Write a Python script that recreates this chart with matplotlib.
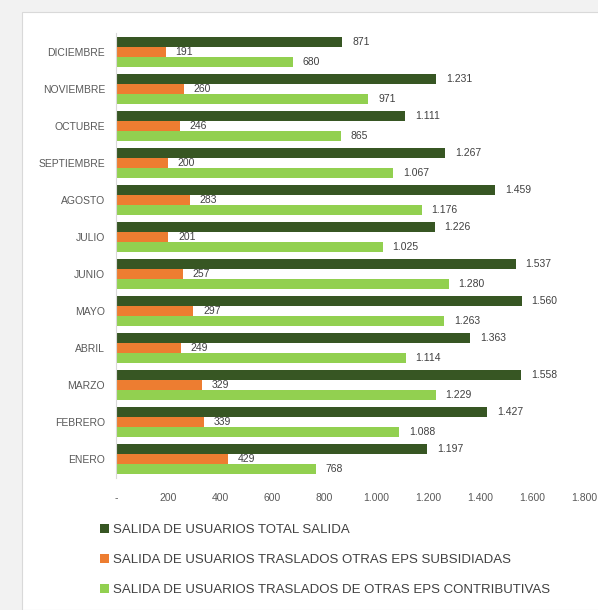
import matplotlib.pyplot as plt
import numpy as np
from matplotlib.patches import Rectangle

meses = ["ENERO", "FEBRERO", "MARZO", "ABRIL", "MAYO", "JUNIO",
         "JULIO", "AGOSTO", "SEPTIEMBRE", "OCTUBRE", "NOVIEMBRE", "DICIEMBRE"]
total_salida = [1197, 1427, 1558, 1363, 1560, 1537, 1226, 1459, 1267, 1111, 1231, 871]
subsidiadas = [429, 339, 329, 249, 297, 257, 201, 283, 200, 246, 260, 191]
contributivas = [768, 1088, 1229, 1114, 1263, 1280, 1025, 1176, 1067, 865, 971, 680]

series_names = ["SALIDA DE USUARIOS TOTAL SALIDA",
                "SALIDA DE USUARIOS TRASLADOS OTRAS EPS SUBSIDIADAS",
                "SALIDA DE USUARIOS TRASLADOS DE OTRAS EPS CONTRIBUTIVAS"]
colors = ["#375623", "#ED7D31", "#92D050"]


def fmt(v):
    if v == 0:
        return "-"
    return f"{int(v):,}".replace(",", ".")


plt.rcParams["font.family"] = ["Liberation Sans", "DejaVu Sans"]

fig = plt.figure(figsize=(5.98, 6.10), dpi=100)
fig.patch.set_facecolor("#f2f2f2")
fig.patches.append(Rectangle((22 / 598, 0.0), 1.0, 1 - 12 / 610, transform=fig.transFigure,
                             facecolor="white", edgecolor="#d9d9d9", linewidth=0.8, zorder=-10))

ax = fig.add_axes([116 / 598, 1 - 478 / 610, (584 - 116) / 598, (478 - 33) / 610])
ax.set_zorder(1)
ax.set_facecolor("white")

y = np.arange(len(meses))
h = 0.27
offsets = [h, 0, -h]
for vals, off, col, name in zip([total_salida, subsidiadas, contributivas], offsets, colors, series_names):
    bars = ax.barh(y + off, vals, height=h, color=col, label=name)
    for b, v in zip(bars, vals):
        ax.text(v + 38, b.get_y() + b.get_height() / 2, fmt(v), va="center", ha="left",
                fontsize=7.5, color="#404040")

ax.set_xlim(0, 1800)
ax.set_ylim(-0.5, len(meses) - 0.5)
ax.set_xticks(np.arange(0, 1801, 200))
ax.set_xticklabels([fmt(t) for t in np.arange(0, 1801, 200)])
ax.set_yticks(y)
ax.set_yticklabels(meses)
ax.tick_params(axis="both", length=0, labelsize=7.5, colors="#595959")
ax.tick_params(axis="y", pad=8)
ax.tick_params(axis="x", pad=11)
for s in ["top", "right", "bottom"]:
    ax.spines[s].set_visible(False)
ax.spines["left"].set_color("#d9d9d9")

handles, labels = ax.get_legend_handles_labels()
leg = fig.legend(handles, labels, loc="upper left", bbox_to_anchor=(88 / 598, 1 - 512 / 610),
                 ncol=1, frameon=False, fontsize=9.5, handlelength=0.7, handleheight=0.7,
                 handletextpad=0.3, labelspacing=1.35, labelcolor="#404040")

fig.savefig("out.png", dpi=100, facecolor=fig.get_facecolor())
